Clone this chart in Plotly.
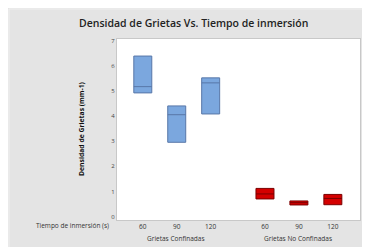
import plotly.graph_objects as go

# Data
categories = ["60", "90", "120", "60", "90", "120"]
groups = ["Grietas Confinadas", "Grietas No Confinadas"]
positions = [0, 1, 2, 3.6, 4.6, 5.6]

conf_q1 = [4.93, 2.96, 4.09]
conf_med = [5.18, 4.06, 5.33]
conf_q3 = [6.40, 4.41, 5.53]

noconf_q1 = [0.70, 0.46, 0.47]
noconf_med = [0.90, 0.55, 0.72]
noconf_q3 = [1.12, 0.62, 0.88]

y_ticks = [0, 1, 2, 3, 4, 5, 6, 7]

W, H = 370, 247
L, R, T, B = 109, 18, 31, 35

fig = go.Figure()
fig.add_trace(go.Box(
    x=positions[:3], q1=conf_q1, median=conf_med, q3=conf_q3,
    lowerfence=conf_q1, upperfence=conf_q3,
    width=0.53, fillcolor="#7ba7de", line=dict(color="#5877a8", width=1),
    whiskerwidth=0, showlegend=False, hoverinfo="skip"))
fig.add_trace(go.Box(
    x=positions[3:], q1=noconf_q1, median=noconf_med, q3=noconf_q3,
    lowerfence=noconf_q1, upperfence=noconf_q3,
    width=0.53, fillcolor="#d40000", line=dict(color="#7a0000", width=1),
    whiskerwidth=0, showlegend=False, hoverinfo="skip"))

pw = W - L - R
ph = H - T - B
def px(x):
    return (x - L) / pw
def py(y):
    return (H - B - y) / ph

def ann(text, x, y, size, color="#333333", xanchor="center", angle=0, weight="normal"):
    return dict(text=text, x=px(x), y=py(y), xref="paper", yref="paper",
                xanchor=xanchor, yanchor="middle", showarrow=False,
                textangle=angle,
                font=dict(size=size, color=color, family="Open Sans", weight=weight))

annotations = [
    ann("Densidad de Grietas Vs. Tiempo de inmersión", 185, 15, 10.5, "#222222", weight=600),
    ann("Densidad de Grietas (mm-1)", 74, 121, 6.8, "#111111", angle=-90, weight="bold"),
    ann("Tiempo de inmersión (s)", 103, 218, 6.5, xanchor="right"),
    ann(groups[0], 168, 230, 6.5),
    ann(groups[1], 290, 230, 6.5),
]

fig.update_layout(
    width=W, height=H,
    margin=dict(l=L, r=R, t=T, b=B),
    paper_bgcolor="#e4e4e4", plot_bgcolor="#ffffff",
    annotations=annotations,
    shapes=[dict(type="rect", xref="paper", yref="paper",
                 x0=px(1), x1=px(367.5), y0=py(243.5), y1=py(1),
                 line=dict(color="#f0f0f0", width=1), layer="below")],
    xaxis=dict(range=[-0.76, 6.40], tickvals=positions, ticktext=categories,
               showgrid=False, zeroline=False, showline=True, mirror=True,
               linecolor="#c8c8c8", linewidth=1, ticks="",
               tickfont=dict(size=6.5, color="#333333", family="Open Sans")),
    yaxis=dict(range=[-0.14, 7.08], tickvals=y_ticks,
               showgrid=False, zeroline=False, showline=True, mirror=True,
               linecolor="#c8c8c8", linewidth=1, ticks="",
               tickfont=dict(size=6, color="#444444", family="Open Sans")),
)

fig.write_html("out.html")
